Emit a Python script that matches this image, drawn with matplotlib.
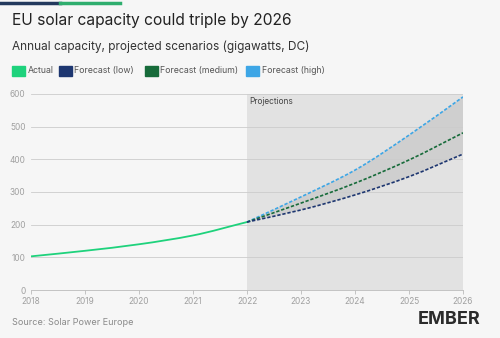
import matplotlib.pyplot as plt
from matplotlib.patches import Rectangle, PathPatch
from matplotlib.path import Path
import numpy as np

years_actual = [2018, 2019, 2020, 2021, 2022]
actual = [103, 120, 140, 167, 208]
years_fc = [2022, 2023, 2024, 2025, 2026]
fc_low = [208, 245, 291, 347, 416]
fc_medium = [208, 266, 327, 398, 481]
fc_high = [208, 285, 367, 474, 591]
yticks = [0, 100, 200, 300, 400, 500, 600]

bg = '#f6f6f6'
c_actual = '#1ed27c'
c_low = '#1d3670'
c_med = '#176b3a'
c_high = '#3da6e6'

plt.rcParams['font.family'] = ['Inter', 'DejaVu Sans']


def smooth_path(xs, ys):
    # monotone cubic (bezier) through the given points, like the original chart
    xs = np.asarray(xs, float)
    ys = np.asarray(ys, float)
    n = len(xs)
    h = np.diff(xs)
    d = np.diff(ys) / h
    m = np.zeros(n)
    m[0], m[-1] = d[0], d[-1]
    for i in range(1, n - 1):
        if d[i - 1] * d[i] > 0:
            m[i] = 2 / (1 / d[i - 1] + 1 / d[i])
    verts = [(xs[0], ys[0])]
    codes = [Path.MOVETO]
    for i in range(n - 1):
        verts += [(xs[i] + h[i] / 3, ys[i] + m[i] * h[i] / 3),
                  (xs[i + 1] - h[i] / 3, ys[i + 1] - m[i + 1] * h[i] / 3),
                  (xs[i + 1], ys[i + 1])]
        codes += [Path.CURVE4] * 3
    return verts, codes


def curve(ax, xs, ys, **kw):
    verts, codes = smooth_path(xs, ys)
    ax.add_patch(PathPatch(Path(verts, codes), fill=False, **kw))


fig = plt.figure(figsize=(5, 3.38), dpi=100, facecolor=bg)
ax = fig.add_axes([0.062, 0.142, 0.864, 0.58], facecolor=bg)

# projections shading
ax.axvspan(2022, 2026, color='#e2e2e2', zorder=0, lw=0)
v_hi, c_hi = smooth_path(years_fc, fc_high)
v_lo, c_lo = smooth_path(years_fc[::-1], fc_low[::-1])
band = Path(v_hi + [v_lo[0]] + v_lo[1:] + [v_hi[0]],
            c_hi + [Path.LINETO] + c_lo[1:] + [Path.CLOSEPOLY])
ax.add_patch(PathPatch(band, color='#cfcfcf', lw=0, zorder=1))
ax.text(2022.05, 592, 'Projections', fontsize=6, color='#444444', va='top')

for y in yticks[1:]:
    ax.axhline(y, color='#cccccc', lw=0.6, zorder=1.5)

curve(ax, years_actual, actual, edgecolor=c_actual, lw=1.3, zorder=3)
dash = (0, (2, 1.1))
curve(ax, years_fc, fc_high, edgecolor=c_high, lw=1.2, ls=dash, zorder=3)
curve(ax, years_fc, fc_medium, edgecolor=c_med, lw=1.2, ls=dash, zorder=3)
curve(ax, years_fc, fc_low, edgecolor=c_low, lw=1.2, ls=dash, zorder=3)

ax.set_xlim(2018, 2026)
ax.set_ylim(0, 600)
ax.set_yticks(yticks)
ax.set_xticks(range(2018, 2027))
ax.tick_params(axis='y', length=0, labelsize=6, colors='#a0a0a0', pad=4)
ax.tick_params(axis='x', length=3, width=0.6, color='#bbbbbb', labelsize=6, labelcolor='#a0a0a0', pad=2)
for s in ['top', 'right', 'left']:
    ax.spines[s].set_visible(False)
ax.spines['bottom'].set_color('#bbbbbb')
ax.spines['bottom'].set_linewidth(0.6)

# top accent line
fig.add_artist(plt.Line2D([0, 0.12], [0.992, 0.992], color='#23395d', lw=2.5, transform=fig.transFigure))
fig.add_artist(plt.Line2D([0.12, 0.24], [0.992, 0.992], color='#2fae6e', lw=2.5, transform=fig.transFigure))

fig.text(0.024, 0.94, 'EU solar capacity could triple by 2026', fontsize=11.2, color='#222222', va='center')
fig.text(0.024, 0.862, 'Annual capacity, projected scenarios (gigawatts, DC)', fontsize=8.5, color='#333333', va='center')

legend_items = [('Actual', c_actual, 0.024), ('Forecast (low)', c_low, 0.118),
                ('Forecast (medium)', c_med, 0.29), ('Forecast (high)', c_high, 0.492)]
for label, col, x in legend_items:
    fig.add_artist(Rectangle((x, 0.775), 0.026, 0.03, color=col, transform=fig.transFigure))
    fig.text(x + 0.031, 0.79, label, fontsize=6.3, color='#555555', va='center')

fig.text(0.024, 0.045, 'Source: Solar Power Europe', fontsize=6.5, color='#8a8a8a', va='center')
fig.text(0.835, 0.055, 'EMBER', fontsize=13, fontweight='bold', color='#2b2b2b', va='center')

fig.savefig('out.png', dpi=100, facecolor=bg)
